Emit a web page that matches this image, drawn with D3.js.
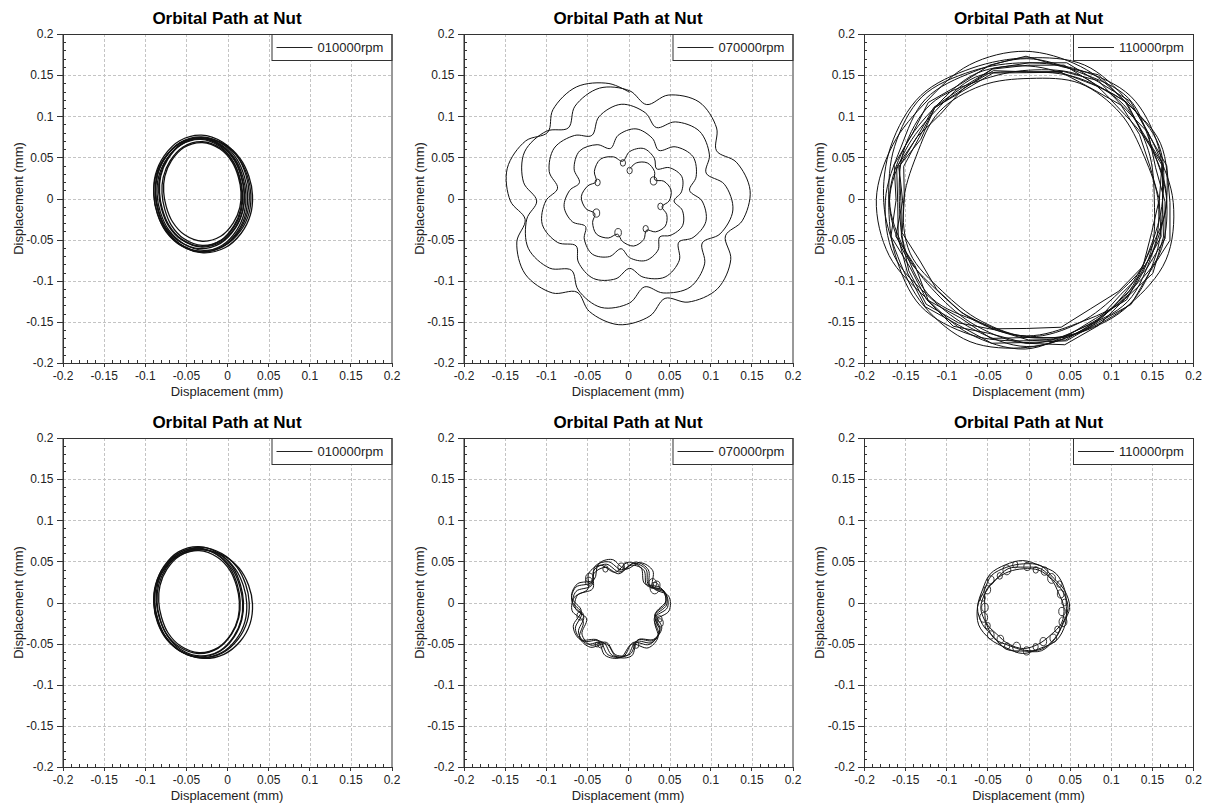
<!DOCTYPE html>
<html lang="en">
<head>
<meta charset="UTF-8">
<title>Orbital Path at Nut</title>
<script src="https://d3js.org/d3.v7.min.js"></script>
<style>
  body { margin: 0; background: #fff; }
  svg { display: block; font-family: "Liberation Sans", Arial, sans-serif; }
  .grid line { stroke: #c4c4c4; stroke-dasharray: 3,2; shape-rendering: crispEdges; }
  .axis path, .axis line { stroke: #333; shape-rendering: crispEdges; }
  .axis text { fill: #222; font-size: 12px; }
  .trace { fill: none; stroke: #111; stroke-width: 1; }
  .trace.heavy { stroke-width: 1.3; }
  .curl { fill: none; stroke: #222; stroke-width: 0.9; }
</style>
</head>
<body>
<div id="chart"></div>
<script>
// axis ticks (mm)
const majorTicks = [-0.2, -0.15, -0.1, -0.05, 0, 0.05, 0.1, 0.15, 0.2];
const tickLabels = ["-0.2", "-0.15", "-0.1", "-0.05", "0", "0.05", "0.1", "0.15", "0.2"];
const minorTicks = [-0.19, -0.18, -0.17, -0.16, -0.14, -0.13, -0.12, -0.11, -0.09, -0.08, -0.07, -0.06,
                    -0.04, -0.03, -0.02, -0.01, 0.01, 0.02, 0.03, 0.04, 0.06, 0.07, 0.08, 0.09,
                    0.11, 0.12, 0.13, 0.14, 0.16, 0.17, 0.18, 0.19];
const legendLabels = ["010000rpm", "070000rpm", "110000rpm", "010000rpm", "070000rpm", "110000rpm"];

// polar sample angles (deg, clockwise from +y)
const angles16 = [0, 22.5, 45, 67.5, 90, 112.5, 135, 157.5, 180, 202.5, 225, 247.5, 270, 292.5, 315, 337.5];
const angles24 = [0, 15, 30, 45, 60, 75, 90, 105, 120, 135, 150, 165, 180, 195, 210, 225, 240, 255, 270, 285, 300, 315, 330, 345];
const angles21 = [0, 17, 34, 51, 69, 86, 103, 120, 137, 154, 171, 189, 206, 223, 240, 257, 274, 291, 309, 326, 343];

// top row, 10000 rpm: loops [cx, cy, radii at angles16]
const orbit010Top = [
  [-0.031, 0.006, [0.071, 0.0675, 0.0625, 0.0585, 0.058, 0.0605, 0.0645, 0.0695, 0.071, 0.0675, 0.0625, 0.0585, 0.058, 0.0605, 0.0645, 0.0695]],
  [-0.032, 0.005, [0.069, 0.0653, 0.0598, 0.0555, 0.055, 0.0575, 0.0618, 0.0673, 0.069, 0.0653, 0.0598, 0.0555, 0.055, 0.0575, 0.0618, 0.0673]],
  [-0.031, 0.007, [0.066, 0.0622, 0.0568, 0.0525, 0.052, 0.0545, 0.0588, 0.0642, 0.066, 0.0622, 0.0568, 0.0525, 0.052, 0.0545, 0.0588, 0.0642]],
  [-0.030, 0.006, [0.063, 0.0592, 0.0537, 0.0495, 0.049, 0.0515, 0.0557, 0.0612, 0.063, 0.0592, 0.0537, 0.0495, 0.049, 0.0515, 0.0557, 0.0612]],
  [-0.029, 0.004, [0.070, 0.0672, 0.0634, 0.0602, 0.060, 0.0622, 0.0654, 0.0692, 0.070, 0.0672, 0.0634, 0.0602, 0.060, 0.0622, 0.0654, 0.0692]],
  [-0.033, 0.006, [0.067, 0.0635, 0.0585, 0.0544, 0.054, 0.0564, 0.0605, 0.0655, 0.067, 0.0635, 0.0585, 0.0544, 0.054, 0.0564, 0.0605, 0.0655]],
  [-0.030, 0.008, [0.060, 0.0564, 0.0513, 0.0474, 0.047, 0.0494, 0.0533, 0.0584, 0.060, 0.0564, 0.0513, 0.0474, 0.047, 0.0494, 0.0533, 0.0584]],
  [-0.028, 0.005, [0.068, 0.0650, 0.0608, 0.0573, 0.057, 0.0593, 0.0628, 0.0670, 0.068, 0.0650, 0.0608, 0.0573, 0.057, 0.0593, 0.0628, 0.0670]],
  [-0.031, 0.005, [0.070, 0.0663, 0.0608, 0.0565, 0.056, 0.0585, 0.0628, 0.0683, 0.070, 0.0663, 0.0608, 0.0565, 0.056, 0.0585, 0.0628, 0.0683]],
  [-0.032, 0.007, [0.065, 0.0610, 0.0550, 0.0506, 0.050, 0.0526, 0.0570, 0.0630, 0.065, 0.0610, 0.0550, 0.0506, 0.050, 0.0526, 0.0570, 0.0630]]
];

// top row, 70000 rpm: run-up spiral [angle deg, radius]
const spiral070Top = [
  [0, 0.039], [10, 0.047], [25, 0.051], [40, 0.047], [50, 0.040], [60, 0.048], [75, 0.052], [90, 0.048],
  [100, 0.040], [110, 0.048], [125, 0.053], [140, 0.049], [150, 0.041], [160, 0.050], [175, 0.055], [190, 0.050],
  [200, 0.043], [210, 0.052], [225, 0.057], [240, 0.052], [250, 0.045], [260, 0.054], [275, 0.059], [290, 0.054],
  [300, 0.047], [310, 0.056], [325, 0.062], [340, 0.057], [350, 0.049], [360, 0.060], [375, 0.066], [390, 0.060],
  [400, 0.051], [410, 0.063], [425, 0.070], [440, 0.064], [450, 0.054], [460, 0.065], [475, 0.071], [490, 0.065],
  [500, 0.057], [510, 0.069], [525, 0.075], [540, 0.069], [550, 0.059], [560, 0.072], [575, 0.079], [590, 0.072],
  [600, 0.062], [610, 0.074], [625, 0.080], [640, 0.074], [650, 0.065], [660, 0.078], [675, 0.086], [690, 0.079],
  [700, 0.068], [710, 0.081], [725, 0.088], [740, 0.081], [750, 0.071], [760, 0.086], [775, 0.094], [790, 0.086],
  [800, 0.074], [810, 0.088], [825, 0.096], [840, 0.089], [850, 0.078], [860, 0.094], [875, 0.102], [890, 0.094],
  [900, 0.082], [910, 0.096], [925, 0.104], [940, 0.097], [950, 0.085], [960, 0.101], [975, 0.110], [990, 0.102],
  [1000, 0.089], [1010, 0.104], [1025, 0.112], [1040, 0.104], [1050, 0.092], [1060, 0.109], [1075, 0.118], [1090, 0.109],
  [1100, 0.095], [1110, 0.111], [1125, 0.120], [1140, 0.112], [1150, 0.099], [1160, 0.117], [1175, 0.126], [1190, 0.117],
  [1200, 0.102], [1210, 0.119], [1225, 0.128], [1240, 0.119], [1250, 0.106], [1260, 0.124], [1275, 0.134], [1290, 0.125],
  [1300, 0.110], [1310, 0.127], [1325, 0.136], [1340, 0.127], [1350, 0.113], [1360, 0.131], [1375, 0.141], [1390, 0.132],
  [1400, 0.116], [1410, 0.133], [1425, 0.142], [1440, 0.134], [1450, 0.119], [1460, 0.137], [1475, 0.147], [1490, 0.138],
  [1500, 0.122], [1510, 0.138], [1525, 0.147], [1540, 0.139], [1550, 0.124], [1560, 0.142], [1575, 0.151], [1590, 0.142],
  [1600, 0.126], [1610, 0.142], [1625, 0.151], [1640, 0.143], [1650, 0.128], [1660, 0.146], [1675, 0.155], [1690, 0.146],
  [1700, 0.129], [1710, 0.145], [1725, 0.154], [1740, 0.146], [1750, 0.130], [1760, 0.145], [1775, 0.153], [1790, 0.145],
  [1800, 0.132]
];
const spiralCenterTop = [0.002, -0.003];
// small loops on the first turn [angle deg, radius, loop size]
const curls070Top = [
  [0, 0.037, 0.004], [50, 0.038, 0.005], [100, 0.038, 0.004], [150, 0.039, 0.004],
  [200, 0.041, 0.005], [250, 0.043, 0.005], [300, 0.045, 0.004], [350, 0.047, 0.004]
];

// top row, 110000 rpm: smooth loops [cx, cy, radii at angles16]
const orbit110Top = [
  [-0.002, -0.002, [0.172, 0.168, 0.175, 0.165, 0.170, 0.174, 0.166, 0.172, 0.178, 0.170, 0.167, 0.175, 0.172, 0.166, 0.174, 0.169]],
  [0.000, -0.004, [0.160, 0.166, 0.158, 0.163, 0.168, 0.159, 0.162, 0.170, 0.165, 0.158, 0.166, 0.161, 0.157, 0.164, 0.168, 0.159]],
  [-0.004, -0.001, [0.180, 0.175, 0.170, 0.178, 0.172, 0.168, 0.176, 0.171, 0.182, 0.177, 0.170, 0.179, 0.181, 0.174, 0.169, 0.177]],
  [0.002, -0.006, [0.152, 0.158, 0.155, 0.150, 0.156, 0.160, 0.153, 0.157, 0.162, 0.155, 0.151, 0.158, 0.154, 0.150, 0.157, 0.155]],
  [-0.003, -0.003, [0.168, 0.172, 0.180, 0.174, 0.166, 0.171, 0.178, 0.173, 0.170, 0.176, 0.181, 0.172, 0.167, 0.173, 0.179, 0.171]],
  [0.001, -0.002, [0.163, 0.159, 0.167, 0.171, 0.162, 0.158, 0.165, 0.168, 0.174, 0.166, 0.160, 0.163, 0.170, 0.165, 0.161, 0.167]],
  [-0.001, -0.005, [0.176, 0.181, 0.173, 0.169, 0.177, 0.182, 0.175, 0.170, 0.176, 0.183, 0.178, 0.171, 0.175, 0.180, 0.184, 0.177]],
  [-0.002, -0.003, [0.157, 0.162, 0.166, 0.160, 0.155, 0.163, 0.168, 0.161, 0.164, 0.159, 0.154, 0.162, 0.167, 0.160, 0.156, 0.163]]
];
// jagged loops [cx, cy, radii at angles24]
const jagged110Top = [
  [-0.001, -0.003, [0.165, 0.171, 0.164, 0.170, 0.162, 0.169, 0.160, 0.168, 0.163, 0.170, 0.165, 0.172, 0.166, 0.173, 0.164, 0.171, 0.158, 0.166, 0.152, 0.162, 0.150, 0.160, 0.157, 0.166]],
  [0.000, -0.004, [0.158, 0.164, 0.170, 0.163, 0.168, 0.160, 0.166, 0.172, 0.165, 0.159, 0.167, 0.174, 0.168, 0.161, 0.170, 0.176, 0.168, 0.160, 0.155, 0.163, 0.157, 0.151, 0.159, 0.165]],
  [-0.003, -0.002, [0.175, 0.168, 0.176, 0.170, 0.164, 0.172, 0.166, 0.173, 0.178, 0.170, 0.176, 0.182, 0.174, 0.168, 0.177, 0.171, 0.163, 0.170, 0.158, 0.166, 0.160, 0.168, 0.162, 0.170]],
  [0.001, -0.005, [0.170, 0.176, 0.169, 0.174, 0.167, 0.173, 0.171, 0.177, 0.169, 0.175, 0.168, 0.174, 0.170, 0.177, 0.172, 0.179, 0.171, 0.165, 0.160, 0.167, 0.158, 0.164, 0.162, 0.169]],
  [-0.002, -0.001, [0.154, 0.160, 0.156, 0.162, 0.158, 0.155, 0.161, 0.157, 0.163, 0.158, 0.154, 0.161, 0.157, 0.163, 0.159, 0.155, 0.150, 0.157, 0.149, 0.155, 0.151, 0.158, 0.153, 0.159]]
];

// bottom row, 10000 rpm [cx, cy, radii at angles16]
const orbit010Bottom = [
  [-0.034, 0.001, [0.067, 0.0635, 0.0585, 0.0544, 0.054, 0.0564, 0.0605, 0.0655, 0.067, 0.0635, 0.0585, 0.0544, 0.054, 0.0564, 0.0605, 0.0655]],
  [-0.033, 0.000, [0.065, 0.0615, 0.0564, 0.0524, 0.052, 0.0544, 0.0584, 0.0635, 0.065, 0.0615, 0.0564, 0.0524, 0.052, 0.0544, 0.0584, 0.0635]],
  [-0.035, 0.002, [0.064, 0.0605, 0.0554, 0.0514, 0.051, 0.0534, 0.0574, 0.0625, 0.064, 0.0605, 0.0554, 0.0514, 0.051, 0.0534, 0.0574, 0.0625]],
  [-0.032, -0.001, [0.066, 0.0632, 0.0594, 0.0562, 0.056, 0.0582, 0.0614, 0.0652, 0.066, 0.0632, 0.0594, 0.0562, 0.056, 0.0582, 0.0614, 0.0652]],
  [-0.029, -0.002, [0.066, 0.0640, 0.0618, 0.0598, 0.060, 0.0618, 0.0638, 0.0660, 0.066, 0.0640, 0.0618, 0.0598, 0.060, 0.0618, 0.0638, 0.0660]],
  [-0.034, 0.001, [0.062, 0.0584, 0.0534, 0.0494, 0.049, 0.0514, 0.0554, 0.0604, 0.062, 0.0584, 0.0534, 0.0494, 0.049, 0.0514, 0.0554, 0.0604]],
  [-0.031, 0.000, [0.067, 0.0644, 0.0610, 0.0581, 0.058, 0.0601, 0.0630, 0.0664, 0.067, 0.0644, 0.0610, 0.0581, 0.058, 0.0601, 0.0630, 0.0664]]
];

// bottom row, 70000 rpm: seven-lobe loops [cx, cy, rotation deg, radii at angles21]
const flower070Bottom = [
  [-0.010, -0.007, 0, [0.044, 0.057, 0.057, 0.045, 0.058, 0.057, 0.044, 0.056, 0.057, 0.045, 0.058, 0.058, 0.046, 0.059, 0.058, 0.045, 0.057, 0.057, 0.044, 0.056, 0.056]],
  [-0.011, -0.006, 4, [0.046, 0.059, 0.058, 0.046, 0.059, 0.059, 0.045, 0.058, 0.058, 0.046, 0.060, 0.059, 0.047, 0.060, 0.059, 0.046, 0.058, 0.058, 0.045, 0.058, 0.057]],
  [-0.009, -0.008, -3, [0.043, 0.055, 0.055, 0.043, 0.056, 0.055, 0.042, 0.054, 0.055, 0.043, 0.056, 0.056, 0.044, 0.057, 0.056, 0.043, 0.055, 0.055, 0.042, 0.054, 0.054]],
  [-0.010, -0.006, 8, [0.047, 0.060, 0.060, 0.047, 0.061, 0.060, 0.046, 0.059, 0.060, 0.047, 0.061, 0.061, 0.048, 0.062, 0.061, 0.047, 0.060, 0.059, 0.046, 0.059, 0.059]],
  [-0.011, -0.008, -6, [0.045, 0.058, 0.057, 0.044, 0.057, 0.058, 0.045, 0.057, 0.056, 0.044, 0.059, 0.058, 0.045, 0.058, 0.059, 0.046, 0.057, 0.056, 0.045, 0.057, 0.058]]
];
const flowerCenterBottom = [-0.010, -0.007];
const curls070Bottom = [
  [2, 0.050, 0.005], [8, 0.052, 0.004], [53, 0.050, 0.006], [58, 0.053, 0.005], [60, 0.049, 0.007],
  [105, 0.050, 0.004], [110, 0.052, 0.005], [156, 0.049, 0.004], [208, 0.050, 0.004], [212, 0.052, 0.003],
  [259, 0.049, 0.005], [311, 0.050, 0.005], [315, 0.052, 0.006], [340, 0.051, 0.004]
];

// bottom row, 110000 rpm [cx, cy, radii at angles16]
const ring110Bottom = [
  [-0.006, -0.006, [0.053, 0.055, 0.051, 0.054, 0.056, 0.052, 0.054, 0.057, 0.053, 0.055, 0.051, 0.054, 0.056, 0.052, 0.055, 0.053]],
  [-0.005, -0.007, [0.050, 0.052, 0.049, 0.051, 0.053, 0.050, 0.052, 0.054, 0.051, 0.049, 0.052, 0.050, 0.053, 0.051, 0.049, 0.052]],
  [-0.007, -0.005, [0.056, 0.054, 0.057, 0.055, 0.053, 0.056, 0.058, 0.055, 0.057, 0.054, 0.056, 0.058, 0.055, 0.053, 0.056, 0.055]],
  [-0.006, -0.006, [0.047, 0.049, 0.048, 0.046, 0.049, 0.050, 0.047, 0.048, 0.050, 0.048, 0.046, 0.049, 0.047, 0.050, 0.048, 0.047]]
];
const ringCenterBottom = [-0.006, -0.006];
const curls110Bottom = [
  [5, 0.050, 0.005], [18, 0.048, 0.004], [30, 0.051, 0.005], [44, 0.049, 0.006], [57, 0.052, 0.004],
  [70, 0.048, 0.005], [83, 0.050, 0.004], [96, 0.047, 0.005], [110, 0.051, 0.006], [123, 0.049, 0.004],
  [136, 0.052, 0.005], [150, 0.048, 0.005], [163, 0.050, 0.004], [176, 0.053, 0.005], [190, 0.049, 0.006],
  [203, 0.051, 0.004], [216, 0.048, 0.005], [230, 0.052, 0.005], [243, 0.049, 0.004], [256, 0.050, 0.006],
  [270, 0.047, 0.005], [283, 0.051, 0.004], [296, 0.049, 0.005], [310, 0.052, 0.005], [323, 0.048, 0.004],
  [336, 0.050, 0.006], [349, 0.053, 0.004]
];

// layout
const width = 1211, height = 805;
const W = 329, H = 329;
const colLeft = [62.5, 463.5, 864];
const rowTop = [34, 438];

const svg = d3.select("#chart").append("svg")
  .attr("width", width).attr("height", height);

const rad = d => d * Math.PI / 180;

function drawPanel(i, drawTraces) {
  const row = Math.floor(i / 3), col = i % 3;
  const g = svg.append("g").attr("transform", `translate(${colLeft[col]},${rowTop[row]})`);
  const x = d3.scaleLinear().domain([-0.2, 0.2]).range([0, W]);
  const y = d3.scaleLinear().domain([-0.2, 0.2]).range([H, 0]);
  const r = d3.scaleLinear().domain([0, 0.4]).range([0, W]);

  g.append("rect").attr("width", W).attr("height", H).attr("fill", "#fff");

  // grid
  const inner = majorTicks.slice(1, -1);
  const grid = g.append("g").attr("class", "grid");
  grid.selectAll(".gx").data(inner).join("line")
    .attr("x1", d => Math.round(x(d)) + 0.5).attr("x2", d => Math.round(x(d)) + 0.5)
    .attr("y1", 0).attr("y2", H);
  grid.selectAll(".gy").data(inner).join("line")
    .attr("y1", d => Math.round(y(d)) + 0.5).attr("y2", d => Math.round(y(d)) + 0.5)
    .attr("x1", 0).attr("x2", W);

  // traces
  g.append("clipPath").attr("id", "clip" + i)
    .append("rect").attr("width", W).attr("height", H);
  const plot = g.append("g").attr("clip-path", `url(#clip${i})`);
  drawTraces(plot, x, y, r);

  // legend
  const lw = 120, lh = 26;
  const lg = g.append("g").attr("transform", `translate(${W - lw},0)`);
  lg.append("rect").attr("x", 0.5).attr("y", 0.5).attr("width", lw).attr("height", lh)
    .attr("fill", "#fff").attr("stroke", "#333");
  lg.append("line").attr("x1", 5).attr("x2", 41).attr("y1", 13.5).attr("y2", 13.5)
    .attr("stroke", "#222");
  lg.append("text").attr("x", 46).attr("y", 18).attr("font-size", 13).attr("fill", "#222")
    .text(legendLabels[i]);

  // frame
  g.append("rect").attr("x", 0.5).attr("y", 0.5).attr("width", W).attr("height", H)
    .attr("fill", "none").attr("stroke", "#333");

  // axes
  const fmt = d => tickLabels[majorTicks.indexOf(d)];
  g.append("g").attr("class", "axis").attr("transform", `translate(0,${H})`)
    .call(d3.axisBottom(x).tickValues(majorTicks).tickFormat(fmt).tickSize(4).tickPadding(4));
  g.append("g").attr("class", "axis").attr("transform", `translate(0,${H})`)
    .call(d3.axisBottom(x).tickValues(minorTicks).tickFormat("").tickSize(-3))
    .select(".domain").remove();
  g.append("g").attr("class", "axis")
    .call(d3.axisLeft(y).tickValues(majorTicks).tickFormat(fmt).tickSize(6).tickPadding(3));
  g.append("g").attr("class", "axis")
    .call(d3.axisLeft(y).tickValues(minorTicks).tickFormat("").tickSize(-3))
    .select(".domain").remove();

  // titles
  g.append("text").attr("x", W / 2).attr("y", -10).attr("text-anchor", "middle")
    .attr("font-size", 17).attr("font-weight", "bold").attr("fill", "#000")
    .text("Orbital Path at Nut");
  g.append("text").attr("x", W / 2).attr("y", H + 33).attr("text-anchor", "middle")
    .attr("font-size", 13).attr("fill", "#222").text("Displacement (mm)");
  g.append("text").attr("transform", `translate(-40,${H / 2}) rotate(-90)`)
    .attr("text-anchor", "middle").attr("font-size", 13).attr("fill", "#222")
    .text("Displacement (mm)");
}

function loops(plot, x, y, r, data, angles, curve, cls) {
  const line = d3.lineRadial()
    .angle(d => rad(d[0])).radius(d => r(d[1])).curve(curve);
  plot.selectAll(null).data(data).join("path")
    .attr("class", cls || "trace")
    .attr("transform", d => `translate(${x(d[0])},${y(d[1])})`)
    .attr("d", d => {
      const rot = d.length === 4 ? d[2] : 0;
      const radii = d[d.length - 1];
      return line(radii.map((v, k) => [angles[k] + rot, v]));
    });
}

function curls(plot, x, y, r, data, center) {
  plot.selectAll(null).data(data).join("ellipse")
    .attr("class", "curl")
    .attr("transform", `translate(${x(center[0])},${y(center[1])})`)
    .attr("cx", d => d3.pointRadial(rad(d[0]), r(d[1]))[0])
    .attr("cy", d => d3.pointRadial(rad(d[0]), r(d[1]))[1])
    .attr("rx", d => r(d[2]) * 0.8)
    .attr("ry", d => r(d[2]));
}

drawPanel(0, (p, x, y, r) =>
  loops(p, x, y, r, orbit010Top, angles16, d3.curveCatmullRomClosed, "trace heavy"));

drawPanel(1, (p, x, y, r) => {
  const line = d3.lineRadial().angle(d => rad(d[0])).radius(d => r(d[1]))
    .curve(d3.curveCatmullRom.alpha(0.5));
  p.append("path").attr("class", "trace")
    .attr("transform", `translate(${x(spiralCenterTop[0])},${y(spiralCenterTop[1])})`)
    .attr("d", line(spiral070Top));
  curls(p, x, y, r, curls070Top, spiralCenterTop);
});

drawPanel(2, (p, x, y, r) => {
  loops(p, x, y, r, orbit110Top, angles16, d3.curveCardinalClosed);
  loops(p, x, y, r, jagged110Top, angles24, d3.curveLinearClosed);
});

drawPanel(3, (p, x, y, r) =>
  loops(p, x, y, r, orbit010Bottom, angles16, d3.curveCatmullRomClosed, "trace heavy"));

drawPanel(4, (p, x, y, r) => {
  loops(p, x, y, r, flower070Bottom, angles21, d3.curveCatmullRomClosed.alpha(0.5));
  curls(p, x, y, r, curls070Bottom, flowerCenterBottom);
});

drawPanel(5, (p, x, y, r) => {
  loops(p, x, y, r, ring110Bottom, angles16, d3.curveCardinalClosed);
  curls(p, x, y, r, curls110Bottom, ringCenterBottom);
});
</script>
</body>
</html>
